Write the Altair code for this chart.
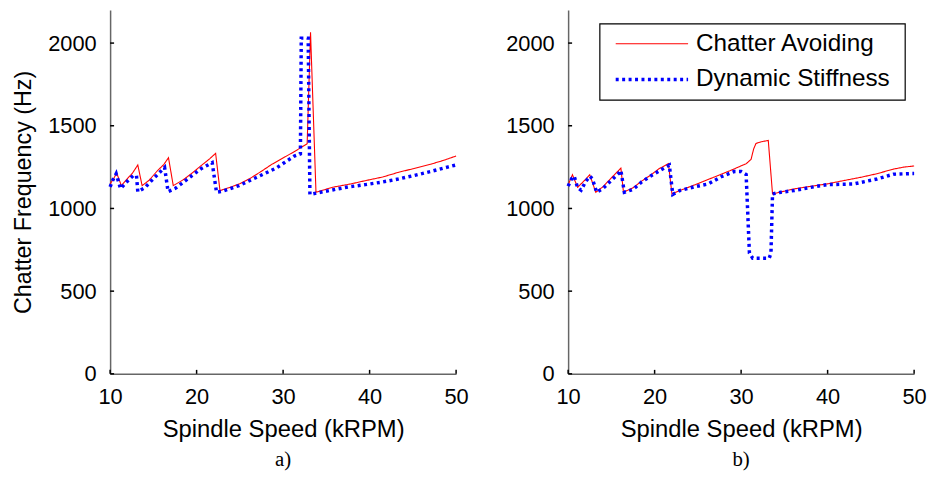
import altair as alt
import pandas as pd

series_names = ["Chatter Avoiding", "Dynamic Stiffness"]
series_colors = ["#ff0000", "#0000ff"]
x_ticks = [10, 20, 30, 40, 50]
y_ticks = [0, 500, 1000, 1500, 2000]

# Panel a) Chatter Avoiding
a_ca_speed = [10.0, 10.4, 10.76, 11.3, 12.0, 12.6, 13.2, 13.7, 14.5, 15.5, 16.2, 16.75, 17.3, 18.5, 19.5,
              20.5, 21.5, 22.2, 22.7, 24.0, 25.0, 26.2, 27.5, 28.7, 30.4, 31.5, 32.78, 33.17, 33.8, 35.7,
              37.8, 39.5, 41.5, 43.3, 45.0, 47.1, 48.5, 50.0]
a_ca_freq = [1148, 1180, 1214, 1138, 1180, 1215, 1263, 1138, 1170, 1230, 1265, 1307, 1138, 1175, 1215,
             1258, 1300, 1333, 1108, 1130, 1150, 1182, 1225, 1267, 1317, 1350, 1391, 2066, 1098, 1128,
             1148, 1168, 1190, 1218, 1240, 1268, 1290, 1317]
# Panel a) Dynamic Stiffness
a_ds_speed = [10.0, 10.3, 10.7, 11.2, 12.0, 12.66, 13.05, 13.2, 14.0, 15.0, 16.3, 16.7, 17.5, 18.5, 19.5,
              20.5, 21.8, 22.3, 23.0, 24.9, 27.1, 29.2, 31.3, 32.0, 32.1, 32.9, 33.1, 35.7, 37.5, 39.5,
              41.5, 43.3, 45.2, 47.1, 49.0, 50.0]
a_ds_freq = [1130, 1170, 1210, 1120, 1165, 1198, 1198, 1102, 1125, 1180, 1248, 1102, 1120, 1160, 1200,
             1240, 1277, 1098, 1104, 1138, 1192, 1244, 1317, 1330, 2030, 2030, 1085, 1112, 1130, 1144,
             1160, 1178, 1200, 1224, 1250, 1263]
# Panel b) Chatter Avoiding
b_ca_speed = [10.0, 10.5, 11.1, 12.0, 12.5, 13.2, 14.0, 15.0, 16.1, 16.4, 17.5, 18.5, 19.5, 20.5, 21.6,
              22.0, 22.9, 24.9, 26.8, 28.7, 30.6, 31.15, 31.45, 31.72, 32.3, 33.14, 33.63, 36.1, 37.3,
              39.9, 41.8, 43.8, 45.7, 47.6, 48.8, 50.0]
b_ca_freq = [1142, 1204, 1128, 1175, 1204, 1098, 1130, 1185, 1244, 1098, 1125, 1165, 1200, 1240, 1271,
             1088, 1108, 1148, 1188, 1228, 1271, 1297, 1360, 1393, 1403, 1411, 1088, 1118, 1128,
             1148, 1168, 1188, 1210, 1238, 1250, 1257]
# Panel b) Dynamic Stiffness
b_ds_speed = [10.0, 10.4, 10.7, 11.1, 11.5, 12.0, 12.5, 12.8, 13.3, 14.0, 15.0, 15.8, 16.1, 16.5, 17.5,
              18.5, 19.5, 20.8, 21.7, 22.1, 22.9, 24.7, 26.2, 27.7, 29.2, 30.0, 30.58, 30.96, 31.34,
              33.25, 33.45, 33.63, 34.6, 36.1, 37.8, 39.9, 43.0, 45.7, 47.6, 49.7, 50.0]
b_ds_freq = [1135, 1180, 1195, 1125, 1110, 1160, 1195, 1180, 1098, 1120, 1170, 1210, 1230, 1098, 1115,
             1160, 1195, 1235, 1262, 1085, 1108, 1132, 1148, 1192, 1223, 1223, 1205, 730, 699,
             699, 730, 1088, 1098, 1108, 1125, 1144, 1148, 1178, 1207, 1211, 1211]


def make_df(ca_s, ca_f, ds_s, ds_f):
    rows = []
    for i, (s, f) in enumerate(zip(ca_s, ca_f)):
        rows.append({"speed": s, "freq": f, "series": series_names[0], "idx": i})
    for i, (s, f) in enumerate(zip(ds_s, ds_f)):
        rows.append({"speed": s, "freq": f, "series": series_names[1], "idx": i})
    return pd.DataFrame(rows)


W, H = 349, 367
FONT = "Liberation Sans"
LEG_FS = 24.5


def panel(df, caption, ytitle, legend):
    x_enc = alt.X("speed:Q", scale=alt.Scale(domain=[10, 50], nice=False, zero=False),
                  axis=alt.Axis(values=x_ticks, title="Spindle Speed (kRPM)", ticks=False, grid=False,
                                labelPadding=13, titlePadding=10, format="d", labelFlush=False,
                                labelOverlap=False, titleFontSize=24))
    y_enc = alt.Y("freq:Q", scale=alt.Scale(domain=[0, 2200], nice=False),
                  axis=alt.Axis(values=y_ticks, title=ytitle, ticks=False, grid=False,
                                labelPadding=14, titlePadding=12, format="d", labelFlush=False,
                                labelOverlap=False, titleFontSize=23.5))
    lines = alt.Chart(df).mark_line(strokeCap="butt", strokeJoin="miter").encode(
        x=x_enc, y=y_enc,
        color=alt.Color("series:N", scale=alt.Scale(domain=series_names, range=series_colors), legend=None),
        strokeDash=alt.StrokeDash("series:N", scale=alt.Scale(domain=series_names, range=[[1, 0], [3, 3.5]]),
                                  legend=None),
        strokeWidth=alt.StrokeWidth("series:N", scale=alt.Scale(domain=series_names, range=[1.1, 3.5]),
                                    legend=None),
        order="idx:Q",
    )
    xt = alt.Chart(pd.DataFrame({"speed": x_ticks})).mark_rule(color="black", strokeWidth=1.5).encode(
        x=x_enc, y=alt.value(H), y2=alt.value(H - 4))
    yt = alt.Chart(pd.DataFrame({"freq": y_ticks})).mark_rule(color="black", strokeWidth=1.5).encode(
        y=y_enc, x=alt.value(0), x2=alt.value(4))
    layers = [lines, xt, yt]
    if legend:
        box = alt.Chart(pd.DataFrame({"k": [0]})).mark_rect(fill="white", stroke="black", strokeWidth=1.2).encode(
            x=alt.value(32), x2=alt.value(340), y=alt.value(14), y2=alt.value(91))
        r1 = alt.Chart(pd.DataFrame({"series": [series_names[0]]})).mark_rule(
            color=series_colors[0], strokeWidth=1.1).encode(
            x=alt.value(48), x2=alt.value(121), y=alt.value(34))
        r2 = alt.Chart(pd.DataFrame({"series": [series_names[1]]})).mark_rule(
            color=series_colors[1], strokeWidth=3.5, strokeDash=[3, 3.5], strokeCap="butt").encode(
            x=alt.value(48), x2=alt.value(121), y=alt.value(70))
        t1 = alt.Chart(pd.DataFrame({"series": [series_names[0]]})).mark_text(
            align="left", baseline="middle", font=FONT, fontSize=LEG_FS, color="black").encode(
            x=alt.value(129), y=alt.value(34), text="series:N")
        t2 = alt.Chart(pd.DataFrame({"series": [series_names[1]]})).mark_text(
            align="left", baseline="middle", font=FONT, fontSize=LEG_FS, color="black").encode(
            x=alt.value(129), y=alt.value(70), text="series:N")
        layers += [box, r1, r2, t1, t2]
    return alt.layer(*layers).properties(
        width=W, height=H,
        title=alt.TitleParams(caption, orient="bottom", font="Liberation Serif", fontSize=21,
                              fontWeight="normal", color="black", offset=8))


left = panel(make_df(a_ca_speed, a_ca_freq, a_ds_speed, a_ds_freq), "a)", "Chatter Frequency (Hz)", False)
right = panel(make_df(b_ca_speed, b_ca_freq, b_ds_speed, b_ds_freq), "b)", None, True)

chart = alt.hconcat(left, right, spacing=37).properties(
    padding={"left": 4, "top": 0, "right": 0, "bottom": 0}
).configure_view(stroke=None).configure_axis(
    labelFont=FONT, labelFontSize=22, labelColor="black",
    titleFont=FONT, titleFontSize=22, titleFontWeight="normal", titleColor="black",
    domainColor="#666666", domainWidth=1.5,
)

chart.save("out.html", embed_options={"renderer": "svg", "actions": False})
